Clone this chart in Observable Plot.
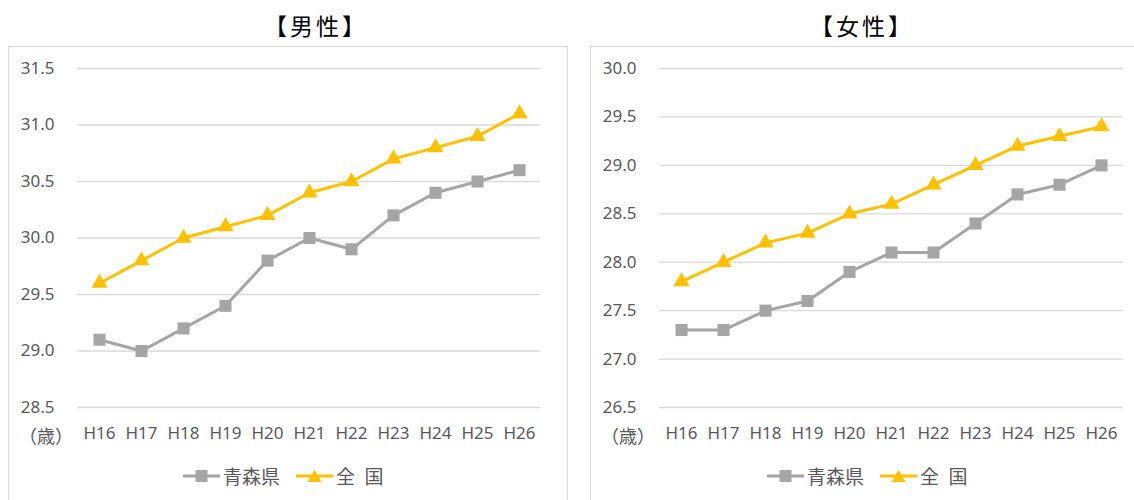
<!DOCTYPE html>
<html><head><meta charset="utf-8">
<script src="https://cdn.jsdelivr.net/npm/d3@7"></script>
<script src="https://cdn.jsdelivr.net/npm/@observablehq/plot@0.6"></script>
<style>
html,body{margin:0;padding:0;background:#fff;width:1134px;height:500px;overflow:hidden;font-family:"Noto Sans","Noto Sans CJK JP",sans-serif;}
.box{position:absolute;top:46px;border:1px solid #D9D9D9;height:480px;box-sizing:border-box;}
.title{position:absolute;top:8px;font-size:23px;color:#000;font-family:"Noto Sans CJK JP",sans-serif;letter-spacing:3px;transform:translateX(-50%);white-space:nowrap;}
.plot{position:absolute;top:46px;}
.unit{position:absolute;top:422px;font-size:18px;color:#595959;font-family:"Noto Sans CJK JP",sans-serif;}
.legend{position:absolute;top:462px;font-size:19px;color:#595959;font-family:"Noto Sans CJK JP",sans-serif;display:flex;align-items:center;white-space:pre;}
.legend span.item{display:flex;align-items:center;margin-right:16px;}
.legend svg{margin-right:3px;}
</style></head><body>
<div class="box" style="left:8px;width:560px;"></div>
<div class="box" style="left:590px;width:560px;"></div>
<div class="title" style="left:316px;">【男性】</div>
<div class="title" style="left:862px;">【女性】</div>
<div class="plot" id="male" style="left:8px;"></div>
<div class="plot" id="female" style="left:590px;"></div>
<div class="unit" style="left:19px;">（歳）</div>
<div class="unit" style="left:601px;">（歳）</div>
<div class="legend" id="legM" style="left:183px;"></div>
<div class="legend" id="legF" style="left:767px;"></div>
<script>
const categories = ["H16","H17","H18","H19","H20","H21","H22","H23","H24","H25","H26"];
const seriesNames = ["青森県","全\u2002国"];
const maleAomori = [29.1,29.0,29.2,29.4,29.8,30.0,29.9,30.2,30.4,30.5,30.6];
const maleNational = [29.6,29.8,30.0,30.1,30.2,30.4,30.5,30.7,30.8,30.9,31.1];
const femaleAomori = [27.3,27.3,27.5,27.6,27.9,28.1,28.1,28.4,28.7,28.8,29.0];
const femaleNational = [27.8,28.0,28.2,28.3,28.5,28.6,28.8,29.0,29.2,29.3,29.4];
const maleTicks = [28.5,29.0,29.5,30.0,30.5,31.0,31.5];
const femaleTicks = [26.5,27.0,27.5,28.0,28.5,29.0,29.5,30.0];

const GRAY = "#A5A5A5", GOLD = "#FFC000", TXT = "#595959";

function toRows(a, n) {
  const rows = [];
  categories.forEach((c,i) => rows.push({cat:c, v:a[i], s:seriesNames[0]}));
  categories.forEach((c,i) => rows.push({cat:c, v:n[i], s:seriesNames[1]}));
  return rows;
}

function makePlot(aomori, national, ticks, width, marginRight) {
  const rows = toRows(aomori, national);
  const A = rows.filter(d => d.s === seriesNames[0]);
  const N = rows.filter(d => d.s === seriesNames[1]);
  return Plot.plot({
    width, height: 408,
    marginLeft: 69, marginRight, marginTop: 22, marginBottom: 47,
    style: {fontFamily: '"Noto Sans", sans-serif', fontSize: "17px", color: TXT, background: "transparent"},
    x: {type: "point", domain: categories, padding: 0.5, label: null},
    y: {domain: [ticks[0], ticks[ticks.length-1]], label: null},
    marks: [
      Plot.ruleY(ticks, {stroke: "#D9D9D9", strokeWidth: 1.3}),
      Plot.axisY({ticks, tickFormat: d => d.toFixed(1), tickSize: 0, tickPadding: 23, fontSize: 17, label: null}),
      Plot.axisX({tickSize: 0, tickPadding: 19, fontSize: 17, label: null}),
      Plot.line(A, {x: "cat", y: "v", stroke: GRAY, strokeWidth: 3}),
      Plot.line(N, {x: "cat", y: "v", stroke: GOLD, strokeWidth: 3}),
      Plot.dot(A, {x: "cat", y: "v", symbol: "square", fill: GRAY, r: 6.8}),
      Plot.dot(N, {x: "cat", y: "v", symbol: "triangle", fill: GOLD, r: 6})
    ]
  });
}

document.getElementById("male").append(makePlot(maleAomori, maleNational, maleTicks, 559, 27));
document.getElementById("female").append(makePlot(femaleAomori, femaleNational, femaleTicks, 544, 11));

function legend(el) {
  const items = [
    {name: seriesNames[0], color: GRAY, sym: "square"},
    {name: seriesNames[1], color: GOLD, sym: "triangle"}
  ];
  items.forEach(it => {
    const span = document.createElement("span");
    span.className = "item";
    const svg = d3.create("svg").attr("width", 37).attr("height", 16);
    svg.append("line").attr("x1", 0).attr("x2", 37).attr("y1", 8).attr("y2", 8).attr("stroke", it.color).attr("stroke-width", 3);
    if (it.sym === "square") svg.append("rect").attr("x", 12.5).attr("y", 2).attr("width", 12).attr("height", 12).attr("fill", it.color);
    else svg.append("path").attr("d", "M18.5,2 L25.5,14 L11.5,14 Z").attr("fill", it.color);
    span.append(svg.node());
    const t = document.createElement("span");
    t.textContent = it.name;
    span.append(t);
    el.append(span);
  });
}
legend(document.getElementById("legM"));
legend(document.getElementById("legF"));
</script>
</body></html>
